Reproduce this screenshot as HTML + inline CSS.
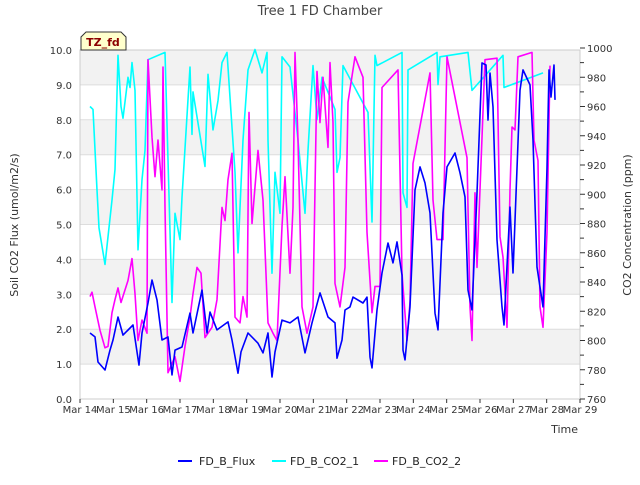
<!DOCTYPE html>
<html><head><meta charset="utf-8"><style>
body{margin:0;background:#fff;font-family:"Liberation Sans","DejaVu Sans",sans-serif}
svg text{font-family:"DejaVu Sans","Liberation Sans",sans-serif}
</style></head><body>
<svg id="chart" width="640" height="480" xmlns="http://www.w3.org/2000/svg">
<rect width="640" height="480" fill="#fff"/>
<g id="bands"></g>
<rect x="80" y="50" width="500" height="349" fill="none" stroke="#ccc"/>
<g id="series"></g>
<g id="axes"></g>
<text x="320" y="15" text-anchor="middle" font-size="13" fill="#444">Tree 1 FD Chamber</text>
<text x="578" y="433" text-anchor="end" font-size="11" fill="#333">Time</text>
<text transform="translate(18,225) rotate(-90)" text-anchor="middle" font-size="11" fill="#333">Soil CO2 Flux (umol/m2/s)</text>
<text transform="translate(631,225) rotate(-90)" text-anchor="middle" font-size="11" fill="#333">CO2 Concentration (ppm)</text>
<g>
<path d="M81,50 L81,37 L86,32 L121,32 L126,37 L126,50 Z" fill="#ffffcc" stroke="#333"/>
<text x="103" y="46" text-anchor="middle" font-size="11" font-weight="bold" fill="#8b0000">TZ_fd</text>
</g>
<g>
<line x1="178" y1="461" x2="192" y2="461" stroke="#0000ff" stroke-width="2"/>
<text x="199" y="465" font-size="11" fill="#222">FD_B_Flux</text>
<line x1="272" y1="461" x2="286" y2="461" stroke="#00ffff" stroke-width="2"/>
<text x="290" y="465" font-size="11" fill="#222">FD_B_CO2_1</text>
<line x1="374" y1="461" x2="388" y2="461" stroke="#ff00ff" stroke-width="2"/>
<text x="392" y="465" font-size="11" fill="#222">FD_B_CO2_2</text>
</g>
</svg>
<script>
const xTickLabels=["Mar 14","Mar 15","Mar 16","Mar 17","Mar 18","Mar 19","Mar 20","Mar 21","Mar 22","Mar 23","Mar 24","Mar 25","Mar 26","Mar 27","Mar 28","Mar 29"];
const leftTicks=[0,1,2,3,4,5,6,7,8,9,10];
const rightTicks=[760,780,800,820,840,860,880,900,920,940,960,980,1000];
const fluxDays=[0.30,0.45,0.54,0.75,0.90,0.99,1.14,1.29,1.59,1.71,1.77,1.86,2.04,2.16,2.31,2.46,2.64,2.76,2.85,3.06,3.30,3.39,3.66,3.81,3.90,4.11,4.44,4.56,4.74,4.83,5.04,5.34,5.49,5.64,5.76,5.85,6.06,6.30,6.54,6.75,6.96,7.20,7.44,7.65,7.71,7.86,7.95,8.10,8.19,8.49,8.61,8.70,8.76,8.91,9.06,9.24,9.39,9.51,9.66,9.69,9.75,9.90,10.05,10.20,10.35,10.50,10.65,10.74,10.89,11.01,11.25,11.40,11.55,11.64,11.76,11.91,12.06,12.18,12.24,12.30,12.39,12.51,12.66,12.72,12.90,12.99,13.20,13.29,13.50,13.59,13.71,13.89,14.01,14.07,14.13,14.22,14.25];
const fluxValues=[1.89,1.78,1.06,0.83,1.40,1.69,2.35,1.83,2.12,1.35,0.97,1.89,2.75,3.41,2.84,1.69,1.78,0.69,1.40,1.49,2.46,1.89,3.12,1.89,2.49,1.98,2.21,1.69,0.74,1.35,1.89,1.60,1.32,1.89,0.63,1.35,2.26,2.18,2.35,1.32,2.18,3.04,2.35,2.18,1.17,1.69,2.55,2.64,2.92,2.75,2.92,1.20,0.89,2.55,3.61,4.47,3.90,4.50,3.55,1.40,1.12,2.64,5.99,6.65,6.19,5.33,2.46,1.98,5.33,6.65,7.05,6.48,5.79,3.12,2.55,5.90,9.63,9.57,7.99,9.34,8.37,4.56,2.64,2.12,5.50,3.61,8.85,9.43,9.00,7.42,3.78,2.64,6.62,9.43,8.65,9.57,8.57];
const co2aDays=[0.30,0.39,0.51,0.57,0.75,0.96,1.05,1.14,1.23,1.29,1.44,1.50,1.56,1.65,1.74,1.86,1.95,2.04,2.55,2.76,2.85,3.00,3.06,3.30,3.36,3.39,3.75,3.84,3.99,4.14,4.26,4.41,4.65,4.74,4.89,5.04,5.25,5.46,5.61,5.64,5.76,5.85,6.00,6.06,6.30,6.54,6.75,6.84,6.99,7.11,7.26,7.65,7.71,7.80,7.89,8.64,8.76,8.85,8.91,9.66,9.69,9.81,9.84,10.71,10.74,10.80,11.64,11.76,12.69,12.72,13.89];
const co2aValues=[960,958,903,877,852,896,917,995,960,952,980,973,990,971,862,910,930,992,997,826,887,869,898,987,941,970,919,982,944,964,990,997,915,860,937,985,999,983,997,937,846,915,887,994,987,937,887,930,988,951,980,958,915,925,988,956,881,995,988,997,901,891,985,997,975,994,997,971,995,973,983];
const co2bDays=[0.30,0.36,0.45,0.60,0.75,0.84,0.96,1.05,1.14,1.23,1.44,1.56,1.65,1.74,1.86,2.01,2.04,2.16,2.25,2.34,2.46,2.49,2.55,2.64,2.85,3.00,3.15,3.30,3.39,3.51,3.63,3.75,3.96,4.11,4.26,4.35,4.44,4.56,4.65,4.80,4.89,5.01,5.07,5.16,5.34,5.49,5.64,5.79,5.91,6.06,6.15,6.30,6.39,6.45,6.54,6.66,6.81,6.99,7.11,7.20,7.29,7.44,7.50,7.59,7.65,7.80,7.95,8.04,8.25,8.49,8.61,8.76,8.85,9.00,9.06,9.54,9.66,9.81,9.90,9.99,10.50,10.59,10.71,10.89,11.01,11.61,11.70,11.76,11.85,11.91,12.15,12.51,12.60,12.69,12.81,12.90,12.96,13.05,13.14,13.56,13.62,13.74,13.80,13.89,14.01,14.10];
const co2bValues=[830,833,823,807,795,796,819,828,836,826,841,856,832,800,814,805,992,939,912,937,903,987,891,778,789,772,796,816,832,850,846,802,809,828,891,882,910,928,816,812,830,816,956,880,930,896,812,805,800,878,912,846,891,997,937,823,805,823,984,949,980,932,990,949,839,823,850,963,994,980,874,819,837,837,973,985,846,800,826,921,983,896,869,869,994,925,823,800,901,850,992,993,871,857,809,903,946,944,994,997,937,923,823,809,874,988];

const NS="http://www.w3.org/2000/svg";
const X0=80,X1=580,YT=50,YB=399;
function xScale(d){return X0+d*(X1-X0)/15;}
function yLeft(v){return YB-v*(YB-YT)/10;}
function yRight(v){return 399-(v-760)*351/240;}
function mk(tag,attrs,parent){const e=document.createElementNS(NS,tag);for(const k in attrs)e.setAttribute(k,attrs[k]);parent.appendChild(e);return e;}
const bands=document.getElementById('bands'),axes=document.getElementById('axes'),series=document.getElementById('series');
for(let i=1;i<10;i+=2){
  const r=mk('rect',{x:X0,y:yLeft(i+1),width:X1-X0,height:yLeft(i)-yLeft(i+1),fill:'#f2f2f2'},bands);
  
  
}
leftTicks.forEach(v=>{
  const y=yLeft(v);
  const g=mk('line',{x1:X0,x2:X1,y1:y,y2:y,stroke:'#ddd'},bands);
  
  
  const t=mk('text',{x:72,y:y+4,'text-anchor':'end','font-size':10,fill:'#333'},axes);
  t.textContent=v.toFixed(1);
  
  
});
rightTicks.forEach((v,i)=>{
  const y=yRight(v);
  mk('line',{x1:X1,x2:X1+5,y1:y,y2:y,stroke:'#333'},axes);
  if(i<rightTicks.length-1){const ym=yRight(v+10);mk('line',{x1:X1,x2:X1+4,y1:ym,y2:ym,stroke:'#333'},axes);}
  const t=mk('text',{x:587,y:y+4,'font-size':10,fill:'#333'},axes);
  t.textContent=v;
  
  
});
xTickLabels.forEach((s,i)=>{
  const x=xScale(i);
  mk('line',{x1:x,x2:x,y1:YB,y2:YB+4,stroke:'#333'},axes);
  const t=mk('text',{x:x,y:413,'text-anchor':'middle','font-size':10,fill:'#333'},axes);
  t.textContent=s;
  
  
});
function line(days,vals,yf,color,name){
  const d=days.map((t,i)=>(i?'L':'M')+xScale(t).toFixed(1)+','+yf(vals[i]).toFixed(1)).join('');
  const p=mk('path',{d:d,fill:'none',stroke:color,'stroke-width':1.6,'stroke-linejoin':'round'},series);
  
  
}
line(co2aDays,co2aValues,yRight,'#00ffff','series-fd-b-co2-1');
line(co2bDays,co2bValues,yRight,'#ff00ff','series-fd-b-co2-2');
line(fluxDays,fluxValues,yLeft,'#0000ff','series-fd-b-flux');
</script>
</body></html>
